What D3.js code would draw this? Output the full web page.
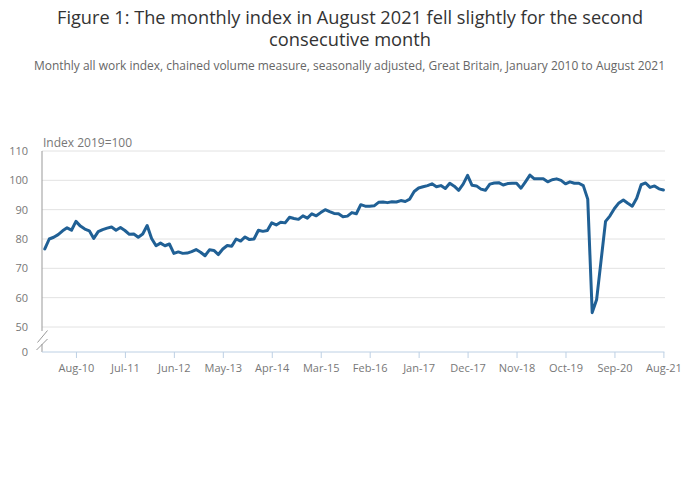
<!DOCTYPE html>
<html>
<head>
<meta charset="utf-8">
<script src="https://cdn.jsdelivr.net/npm/d3@7"></script>
<style>
  body { margin: 0; background: #fff; }
  svg { font-family: "Open Sans", sans-serif; }
</style>
</head>
<body>
<svg id="chart" width="700" height="486"></svg>
<script>
const titleLines = ["Figure 1: The monthly index in August 2021 fell slightly for the second", "consecutive month"];
const subtitle = "Monthly all work index, chained volume measure, seasonally adjusted, Great Britain, January 2010 to August 2021";
const yLabel = "Index 2019=100";

// Monthly values, January 2010 to August 2021
const values = [
  76.6, 80.0, 80.6, 81.5, 82.8, 83.8, 83.0, 86.0, 84.4, 83.4, 82.8, 80.2,
  82.5, 83.2, 83.7, 84.1, 83.0, 83.9, 82.9, 81.6, 81.7, 80.6, 81.7, 84.6,
  80.2, 77.7, 78.6, 77.7, 78.3, 75.1, 75.6, 75.1, 75.2, 75.7, 76.4, 75.5,
  74.3, 76.3, 76.1, 74.7, 76.6, 77.8, 77.5, 80.0, 79.3, 80.7, 79.8, 80.0,
  83.0, 82.6, 82.9, 85.5, 84.8, 85.7, 85.5, 87.4, 87.0, 86.7, 87.9, 87.1,
  88.6, 87.9, 89.0, 90.0, 89.3, 88.7, 88.6, 87.6, 87.8, 89.0, 88.6, 91.7,
  91.2, 91.2, 91.3, 92.5, 92.6, 92.4, 92.7, 92.6, 93.1, 92.8, 93.6, 96.2,
  97.4, 97.8, 98.2, 98.8, 97.8, 98.2, 97.2, 99.0, 98.0, 96.6, 98.7, 101.7,
  98.3, 98.1, 97.0, 96.6, 98.7, 99.1, 99.2, 98.4, 98.9, 99.0, 99.0, 97.3,
  99.5, 101.8, 100.5, 100.5, 100.5, 99.5, 100.2, 100.5, 100.0, 98.8, 99.5, 99.0,
  99.0, 98.2, 93.6, 54.9, 59.4, 72.7, 86.0, 87.9, 90.4, 92.3, 93.3, 92.2,
  91.2, 93.9, 98.5, 99.1, 97.6, 98.1, 97.1, 96.7
];
const xTickLabels = ["Aug-10","Jul-11","Jun-12","May-13","Apr-14","Mar-15","Feb-16","Jan-17","Dec-17","Nov-18","Oct-19","Sep-20","Aug-21"];
const yTicks = [50, 60, 70, 80, 90, 100, 110];
const yBaseLabel = "0";

const fmt = d3.timeFormat("%b-%y");
const months = d3.timeMonth.range(new Date(2010, 0, 1), new Date(2021, 8, 1)).map(fmt);
const data = months.map((m, i) => ({ m, v: values[i] }));

const svg = d3.select("#chart");
const W = 700;
const plotLeft = 42, plotRight = 663.4, plotTop = 151, breakY = 327, baseY = 352;

// Title
svg.append("text").attr("x", W/2).attr("y", 24).attr("text-anchor", "middle")
  .attr("font-size", 18).attr("fill", "#333")
  .attr("textLength", 586).attr("lengthAdjust", "spacingAndGlyphs")
  .text(titleLines[0]);
svg.append("text").attr("x", W/2).attr("y", 46).attr("text-anchor", "middle")
  .attr("font-size", 18).attr("fill", "#333")
  .attr("textLength", 162).attr("lengthAdjust", "spacingAndGlyphs")
  .text(titleLines[1]);
svg.append("text").attr("x", W/2 - 0.5).attr("y", 70).attr("text-anchor", "middle")
  .attr("font-size", 12).attr("fill", "#666")
  .attr("textLength", 631).attr("lengthAdjust", "spacingAndGlyphs")
  .text(subtitle);

const x = d3.scalePoint().domain(months).range([44.8, plotRight]);
const y = d3.scaleLinear().domain([50, 110]).range([breakY, plotTop]);

// gridlines
svg.append("g").selectAll("line").data(yTicks).join("line")
  .attr("x1", plotLeft).attr("x2", 665)
  .attr("y1", d => y(d)).attr("y2", d => y(d))
  .attr("stroke", "#e2e2e2").attr("stroke-width", 1);

// y tick labels
svg.append("g").selectAll("text").data(yTicks).join("text")
  .attr("x", 28).attr("y", d => y(d)).attr("dy", "0.35em")
  .attr("text-anchor", "end").attr("font-size", 11).attr("fill", "#777")
  .text(d => d);
svg.append("text").attr("x", 28).attr("y", baseY).attr("dy", "0.35em")
  .attr("text-anchor", "end").attr("font-size", 11).attr("fill", "#777")
  .text(yBaseLabel);

// y axis line + break
svg.append("line").attr("x1", plotLeft).attr("x2", plotLeft).attr("y1", plotTop).attr("y2", 331)
  .attr("stroke", "#999").attr("stroke-width", 1);
svg.append("line").attr("x1", plotLeft).attr("x2", plotLeft).attr("y1", 344).attr("y2", baseY)
  .attr("stroke", "#999").attr("stroke-width", 1);
svg.append("line").attr("x1", 37.5).attr("y1", 342.5).attr("x2", 47.5).attr("y2", 330.5)
  .attr("stroke", "#999").attr("stroke-width", 1);
svg.append("line").attr("x1", 36.5).attr("y1", 350).attr("x2", 47.5).attr("y2", 339)
  .attr("stroke", "#999").attr("stroke-width", 1);

// y label
svg.append("text").attr("x", 43).attr("y", 147).attr("font-size", 12).attr("fill", "#777")
  .text(yLabel);

// x axis
const xAxis = d3.axisBottom(x).tickValues(xTickLabels).tickSize(6).tickSizeOuter(0).tickPadding(6);
const gx = svg.append("g").attr("transform", `translate(0,${baseY})`).call(xAxis);
gx.select(".domain").remove();
gx.selectAll(".tick line").attr("stroke", "#bdd0e4");
gx.selectAll(".tick text").attr("font-size", 11).attr("fill", "#777").attr("font-family", "Open Sans, sans-serif");
svg.append("line").attr("x1", plotLeft).attr("x2", plotRight + 1).attr("y1", baseY).attr("y2", baseY)
  .attr("stroke", "#bdd0e4").attr("stroke-width", 1);

// line
const line = d3.line().x(d => x(d.m)).y(d => y(d.v));
svg.append("path").datum(data).attr("d", line)
  .attr("fill", "none").attr("stroke", "#206095").attr("stroke-width", 3)
  .attr("stroke-linejoin", "round").attr("stroke-linecap", "round");
</script>
</body>
</html>
